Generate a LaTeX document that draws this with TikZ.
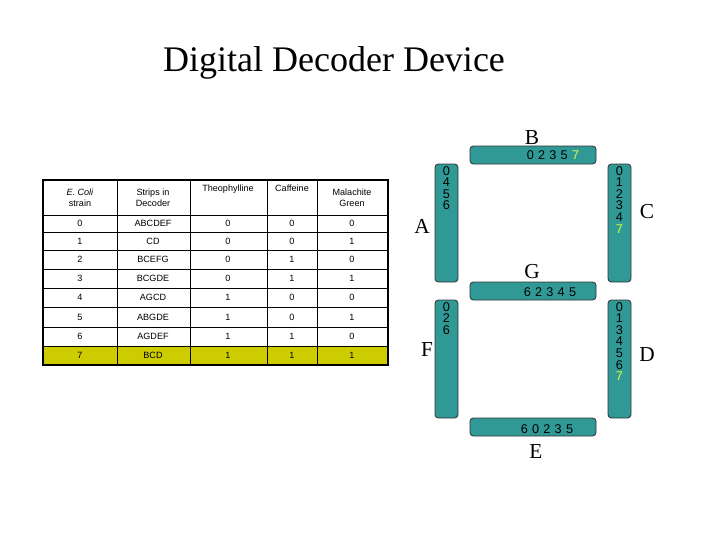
\documentclass[tikz,border=0pt]{standalone}
\usepackage{fontspec}
\setmainfont{Liberation Serif}
\newfontfamily\arial{Liberation Sans}
\definecolor{teal1}{RGB}{48,153,150}
\definecolor{hl}{RGB}{204,204,0}
\definecolor{sev}{RGB}{210,255,60}
\begin{document}
\begin{tikzpicture}[x=0.75pt,y=-0.75pt,
  seg/.style={fill=teal1,draw=black!80,line width=0.6pt,rounded corners=2.5pt},
  cell/.style={font=\arial\fontsize{6.8}{8.4}\selectfont,align=center,inner sep=0pt},
  big/.style={font=\fontsize{16}{18}\selectfont,inner sep=0pt},
  hnum/.style={font=\arial\fontsize{9.5}{10}\selectfont,inner sep=0pt},
  num/.style={font=\arial\fontsize{9.5}{8.7}\selectfont,align=center,inner sep=0pt,anchor=north}]
\useasboundingbox (0,0) rectangle (720,540);
\node[font=\fontsize{27}{30}\selectfont,inner sep=0pt] (title) at (334,63) {Digital Decoder Device};
% table
\fill[hl] (43,346) rectangle (388,365);
\foreach \y in {215,232,250,269,288,307,327,346} \draw[line width=0.6pt] (43,\y) -- (388,\y);
\foreach \x in {117,190,267,317} \draw[line width=0.6pt] (\x,180) -- (\x,365);
\draw[line width=1.4pt] (43,180) rectangle (388,365);
\node[cell] (h1) at (80,197.5) {\textit{E. Coli}\\strain};
\node[cell] (h2) at (153,197.5) {Strips in\\Decoder};
\node[cell,anchor=north] (h3) at (228,185) {Theophylline};
\node[cell,anchor=north] (h4) at (292,185) {Caffeine};
\node[cell] (h5) at (352,197.5) {Malachite\\Green};
\foreach \r/\s/\t/\c/\m [count=\i from 0] in {0/ABCDEF/0/0/0,1/CD/0/0/1,2/BCEFG/0/1/0,3/BCGDE/0/1/1,4/AGCD/1/0/0,5/ABGDE/1/0/1,6/AGDEF/1/1/0,7/BCD/1/1/1}{
  \pgfmathsetmacro\yy{{215,232,250,269,288,307,327,346,365}[\i]}
  \pgfmathsetmacro\yb{{215,232,250,269,288,307,327,346,365}[\i+1]}
  \pgfmathsetmacro\ym{(\yy+\yb)/2}
  \node[cell] (r\i a) at (80,\ym) {\r};
  \node[cell] (r\i b) at (153,\ym) {\s};
  \node[cell] (r\i c) at (228,\ym) {\t};
  \node[cell] (r\i d) at (292,\ym) {\c};
  \node[cell] (r\i e) at (352,\ym) {\m};
}
% segments
\draw[seg] (470,146) rectangle (596,164); \node[hnum] (tb) at (553,155) {0\,\,2\,\,3\,\,5\,\,\textcolor{sev}{7}};
\draw[seg] (435,164) rectangle (458,282); \node[num] (ta) at (446.5,166) {0\\4\\5\\6};
\draw[seg] (608,164) rectangle (631,282); \node[num] (tc) at (619.5,166) {0\\1\\2\\3\\4\\\textcolor{sev}{7}};
\draw[seg] (470,282) rectangle (596,300); \node[hnum] (tg) at (550,292) {6\,\,2\,\,3\,\,4\,\,5};
\draw[seg] (435,300) rectangle (458,418); \node[num] (tf) at (446.5,302) {0\\2\\6};
\draw[seg] (608,300) rectangle (631,418); \node[num] (td) at (619.5,302) {0\\1\\3\\4\\5\\6\\\textcolor{sev}{7}};
\draw[seg] (470,418) rectangle (596,436); \node[hnum] (te) at (547,429) {6\,\,0\,\,2\,\,3\,\,5};
\node[big] (B) at (532,138) {B};
\node[big] (A) at (422,226) {A};
\node[big] (C) at (647,212) {C};
\node[big] (G) at (532,272) {G};
\node[big] (F) at (427,350) {F};
\node[big] (D) at (647,355) {D};
\node[big] (E) at (536,452) {E};
\end{tikzpicture}
\end{document}
